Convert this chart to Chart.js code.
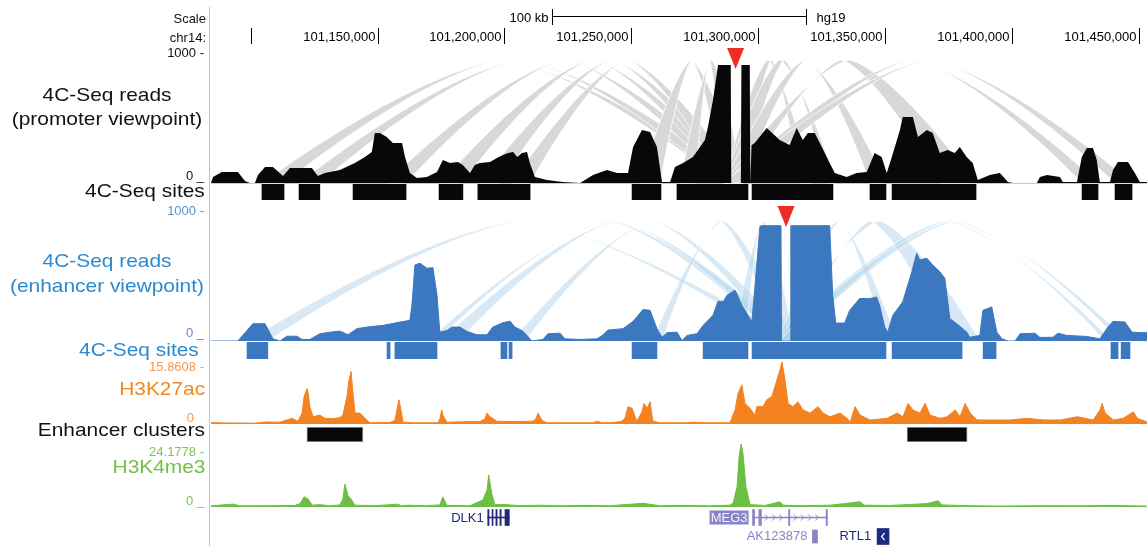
<!DOCTYPE html>
<html>
<head>
<meta charset="utf-8">
<title>4C-Seq at the DLK1-MEG3 locus</title>
<script src="https://cdn.jsdelivr.net/npm/chart.js@4.4.1/dist/chart.umd.min.js"></script>
<style>
  html, body { margin: 0; padding: 0; background: #fff; }
  #browser { position: relative; width: 1148px; height: 546px; overflow: hidden; font-family: "Liberation Sans", Arial, sans-serif; color: #111; }
  #browser canvas { position: absolute; left: 0; }
  .lbl { position: absolute; white-space: nowrap; }
  .big { font-size: 19px; line-height: 24px; transform: scaleX(1.1); transform-origin: right center; }
  .pair { left: 7px; width: 200px; text-align: center; transform-origin: center center; }
  .sm { font-size: 13px; line-height: 14px; }
  #divider { position: absolute; left: 209px; top: 7px; width: 1px; height: 539px; background: #f3aeae; }
</style>
</head>
<body>
<div id="browser">
  <canvas id="promoter" width="1148" height="185" style="top:0"></canvas>
  <canvas id="promoterSites" width="1148" height="17" style="top:184px"></canvas>
  <canvas id="enhancer" width="1148" height="142" style="top:200px"></canvas>
  <canvas id="enhancerSites" width="1148" height="18" style="top:342px"></canvas>
  <canvas id="h3k27ac" width="1148" height="69" style="top:356px"></canvas>
  <canvas id="clusters" width="1148" height="17" style="top:426px"></canvas>
  <canvas id="h3k4me3" width="1148" height="68" style="top:440px"></canvas>
  <canvas id="genes" width="1148" height="38" style="top:508px"></canvas>
  <div id="divider"></div>

  <div class="lbl sm" style="right:942px;top:12px">Scale</div>
  <div class="lbl sm" style="right:942px;top:31px">chr14:</div>

  <div class="lbl sm" style="right:944px;top:46px">1000 -</div>
  <div class="lbl sm" style="right:944px;top:169px">0 _</div>
  <div class="lbl big pair" style="top:83px">4C-Seq reads<br>(promoter viewpoint)</div>
  <div class="lbl big" style="right:943px;top:179px">4C-Seq sites</div>

  <div class="lbl sm" style="right:944px;top:204px;color:#5d8fd2">1000 -</div>
  <div class="lbl sm" style="right:944px;top:326px;color:#5d8fd2">0 _</div>
  <div class="lbl big pair" style="top:248px;line-height:25px;color:#2b8ace">4C-Seq reads<br>(enhancer viewpoint)</div>
  <div class="lbl big" style="right:949px;top:338px;color:#2b8ace">4C-Seq sites</div>

  <div class="lbl sm" style="right:944px;top:360px;color:#f39a4c">15.8608 -</div>
  <div class="lbl sm" style="right:954px;top:411px;color:#f39a4c">0</div>
  <div class="lbl big" style="right:943px;top:377px;color:#f5861f">H3K27ac</div>

  <div class="lbl big" style="right:943px;top:418px">Enhancer clusters</div>

  <div class="lbl sm" style="right:944px;top:445px;color:#7fc35a">24.1778 -</div>
  <div class="lbl sm" style="right:944px;top:494px;color:#7fc35a">0 _</div>
  <div class="lbl big" style="right:943px;top:455px;color:#72bf44">H3K4me3</div>
</div>

<script>
// window on chr14, in kb
const X_MIN = 101084.3;
const X_MAX = 101453.3;

const rulerTicks = [101100, 101150, 101200, 101250, 101300, 101350, 101400, 101450];
const scaleBarKb = 100;
const assembly = 'hg19';

const READS_MAX = 1000;
const H3K27AC_MAX = 15.8608;
const H3K4ME3_MAX = 24.1778;

// 4C reads, promoter viewpoint
const promoterPos = [101084.3, 101085.1, 101088.6, 101094.9, 101097.7, 101099.6, 101101.6, 101102.8, 101105.6, 101108.7,
  101112.7, 101115.4, 101124.1, 101126.4, 101129.2, 101135.1, 101141.0, 101145.0, 101147.7, 101148.9,
  101150.9, 101153.6, 101156.0, 101159.6, 101160.8, 101162.7, 101165.5, 101169.4, 101173.4, 101175.7,
  101178.5, 101181.6, 101183.6, 101186.4, 101188.3, 101190.3, 101194.3, 101197.0, 101199.4, 101201.4,
  101203.4, 101205.0, 101206.9, 101208.9, 101210.0, 101212.0, 101216.7, 101223.0, 101229.8, 101234.9,
  101240.4, 101244.4, 101248.7, 101250.7, 101254.2, 101257.4, 101260.1, 101262.1, 101265.3, 101267.2,
  101270.4, 101274.3, 101277.1, 101279.0, 101280.2, 101282.2, 101284.2, 101289.2, 101289.4, 101293.2,
  101293.4, 101296.7, 101296.9, 101297.4, 101298.6, 101303.4, 101308.5, 101312.4, 101315.2, 101317.6,
  101319.6, 101322.3, 101325.1, 101328.2, 101330.2, 101334.9, 101338.8, 101342.8, 101345.9, 101348.7,
  101350.7, 101352.7, 101355.9, 101357.0, 101361.0, 101363.0, 101366.5, 101368.8, 101371.6, 101374.7,
  101377.5, 101379.5, 101382.2, 101384.6, 101386.6, 101391.3, 101395.3, 101398.5, 101400.5, 101409.9,
  101411.1, 101413.9, 101419.0, 101420.1, 101425.7, 101427.6, 101429.6, 101432.0, 101433.5, 101434.7,
  101438.7, 101439.9, 101441.8, 101445.8, 101448.5, 101450.5, 101453.3];
const promoterReads = [0, 46, 85, 85, 15, 0, 0, 62, 123, 123,
  54, 115, 115, 54, 77, 100, 154, 200, 238, 385,
  385, 354, 308, 308, 200, 77, 38, 46, 85, 177,
  154, 162, 138, 77, 138, 154, 162, 192, 215, 231,
  238, 200, 231, 238, 154, 46, 23, 8, 0, 62,
  100, 77, 77, 277, 408, 392, 277, 8, 8, 123,
  154, 200, 277, 331, 431, 638, 908, 908, 0, 0,
  908, 908, 0, 290, 308, 423, 331, 292, 423, 331,
  385, 385, 277, 154, 77, 46, 77, 85, 231, 200,
  77, 200, 408, 508, 508, 354, 408, 385, 231, 254,
  231, 277, 200, 154, 23, 62, 77, 8, 0, 0,
  46, 62, 46, 8, 8, 200, 269, 269, 177, 8,
  8, 100, 162, 162, 77, 8, 8];
const promoterViewpoint = 101291.1;
const promoterAnchor = [101286.5, 101294.0];
const promoterArcs = [
  [101104.4, 101113.1], [101119.0, 101127.2], [101153.3, 101161.2], [101175.0, 101183.2],
  [101190.3, 101198.2], [101203.0, 101210.1], [101253.4, 101261.3], [101269.2, 101275.1],
  [101316.5, 101321.2], [101326.8, 101330.7], [101344.1, 101350.4], [101371.7, 101385.5],
  [101427.7, 101434.0], [101440.7, 101447.4]];
const promoterSites = [
  [101104.4, 101113.1], [101119.0, 101127.2], [101140.3, 101161.2], [101174.2, 101183.6],
  [101189.5, 101210.1], [101250.3, 101261.7], [101268.0, 101296.0], [101297.6, 101329.5],
  [101344.1, 101350.4], [101352.8, 101385.9], [101427.7, 101434.0], [101440.7, 101447.4]];

// 4C reads, enhancer viewpoint
const enhancerPos = [101084.3, 101094.9, 101098.5, 101100.8, 101105.6, 101108.7, 101111.5, 101114.2, 101118.2, 101120.2,
  101123.3, 101127.2, 101131.2, 101135.1, 101138.3, 101141.8, 101145.7, 101152.0, 101158.8, 101162.7,
  101163.5, 101164.7, 101166.7, 101169.4, 101171.8, 101173.4, 101174.5, 101177.3, 101179.3, 101182.4,
  101185.2, 101189.1, 101193.1, 101195.4, 101199.4, 101202.2, 101204.1, 101206.9, 101208.9, 101210.8,
  101215.2, 101217.1, 101221.9, 101223.8, 101229.8, 101236.5, 101238.9, 101240.8, 101246.7, 101250.7,
  101254.6, 101257.4, 101260.1, 101262.1, 101264.1, 101268.0, 101270.0, 101272.0, 101275.9, 101278.3,
  101282.2, 101284.2, 101286.2, 101287.8, 101290.9, 101293.6, 101296.0, 101297.5, 101298.7, 101300.7,
  101301.5, 101309.0, 101309.2, 101312.7, 101312.9, 101328.2, 101329.4, 101330.6, 101334.1, 101336.1,
  101340.0, 101344.0, 101346.7, 101347.9, 101349.9, 101351.1, 101353.1, 101357.0, 101360.6, 101362.5,
  101363.7, 101366.5, 101368.8, 101371.6, 101373.6, 101375.6, 101378.3, 101382.3, 101383.4, 101387.4,
  101388.6, 101392.1, 101394.1, 101396.1, 101398.5, 101401.3, 101403.3, 101409.1, 101411.1, 101416.2,
  101418.2, 101421.7, 101429.6, 101434.7, 101437.9, 101439.9, 101444.6, 101447.4, 101451.3, 101453.3];
const enhancerReads = [0, 0, 81, 133, 133, 17, 0, 37, 37, 12,
  12, 56, 68, 76, 48, 95, 107, 120, 146, 159,
  275, 585, 598, 560, 564, 353, 68, 81, 107, 107,
  74, 48, 48, 107, 141, 153, 107, 81, 43, 0,
  12, 56, 60, 17, 12, 17, 48, 84, 95, 151,
  242, 236, 95, 29, 64, 68, 4, 43, 56, 120,
  198, 306, 301, 353, 391, 275, 198, 146, 407, 882,
  887, 887, 0, 0, 887, 887, 353, 138, 138, 236,
  327, 327, 339, 275, 107, 68, 198, 301, 533, 676,
  624, 637, 585, 533, 482, 172, 133, 68, 29, 43,
  236, 262, 68, 17, 0, 0, 56, 60, 27, 29,
  60, 43, 35, 17, 107, 151, 146, 68, 64, 64];
const enhancerViewpoint = 101311.0;
const enhancerAnchor = [101308.0, 101314.0];
const enhancerArcs = [
  [101098.5, 101106.7], [101169.8, 101173.4], [101175.0, 101181.7], [101203.0, 101208.1],
  [101258.2, 101262.1], [101290.1, 101294.8], [101350.0, 101354.8], [101374.5, 101387.5],
  [101436.8, 101439.5], [101442.7, 101445.8]];
const enhancerSites = [
  [101098.5, 101106.7], [101153.7, 101154.9], [101156.8, 101173.4], [101198.6, 101201.0],
  [101201.8, 101203.0], [101250.3, 101260.1], [101278.3, 101296.0], [101297.6, 101350.4],
  [101352.8, 101380.4], [101388.7, 101393.8], [101439.1, 101441.9], [101443.1, 101446.6]];

// H3K27ac signal
const h3k27acPos = [101084.3, 101089.8, 101095.7, 101101.6, 101106.3, 101111.5, 101114.2, 101116.2, 101118.6, 101120.2,
  101121.0, 101122.2, 101122.6, 101123.3, 101124.5, 101127.2, 101129.2, 101132.4, 101135.1, 101136.3,
  101137.9, 101138.7, 101139.5, 101140.3, 101141.1, 101143.0, 101145.0, 101147.0, 101154.8, 101156.8,
  101157.6, 101158.4, 101159.2, 101160.0, 101163.9, 101168.6, 101173.8, 101174.5, 101175.3, 101175.7,
  101177.3, 101183.6, 101190.3, 101192.3, 101193.1, 101194.3, 101197.0, 101203.4, 101211.2, 101212.4,
  101213.2, 101214.8, 101216.7, 101225.8, 101234.9, 101236.5, 101238.5, 101242.8, 101246.3, 101247.5,
  101248.7, 101250.3, 101251.5, 101252.2, 101254.2, 101255.0, 101256.2, 101257.4, 101258.5, 101261.3,
  101271.9, 101274.3, 101279.8, 101288.9, 101290.9, 101292.1, 101293.6, 101294.8, 101296.8, 101298.7,
  101299.5, 101301.9, 101303.4, 101305.4, 101307.4, 101308.6, 101309.4, 101310.6, 101311.8, 101313.7,
  101315.7, 101317.7, 101320.5, 101323.6, 101325.6, 101328.4, 101332.3, 101335.1, 101336.3, 101338.2,
  101340.2, 101344.1, 101350.8, 101354.8, 101357.1, 101359.1, 101361.0, 101363.8, 101365.8, 101367.8,
  101371.7, 101374.5, 101377.7, 101379.6, 101381.6, 101383.6, 101386.3, 101392.7, 101399.4, 101406.0,
  101412.4, 101419.1, 101425.8, 101432.1, 101434.8, 101435.6, 101436.8, 101440.0, 101443.9, 101447.9,
  101449.5, 101453.3];
const h3k27acSignal = [0.35, 0.25, 0.25, 0.2, 0.5, 0.45, 1.0, 1.4, 0.7, 2.7,
  6.8, 8.8, 7.7, 4.3, 1.8, 2.2, 1.4, 1.3, 1.6, 2.2,
  6.8, 10.9, 13.0, 7.6, 2.7, 2.7, 1.4, 0.3, 0.35, 0.9,
  3.5, 6.0, 3.5, 0.45, 0.3, 0.3, 0.3, 1.3, 3.5, 2.2,
  0.45, 0.55, 0.6, 1.3, 2.7, 1.8, 0.7, 0.6, 0.7, 1.3,
  2.7, 0.9, 0.3, 0.3, 0.3, 0.7, 0.3, 0.35, 0.7, 1.4,
  4.3, 3.9, 1.8, 0.7, 3.0, 5.1, 3.9, 5.5, 0.7, 0.3,
  0.3, 0.45, 0.3, 0.3, 3.5, 7.6, 9.7, 5.1, 3.9, 2.2,
  4.3, 4.3, 6.0, 6.8, 10.9, 13.4, 15.4, 10.9, 5.1, 4.3,
  5.5, 3.5, 2.7, 4.3, 2.7, 1.8, 2.7, 1.4, 0.45, 4.3,
  2.2, 1.0, 1.4, 2.7, 1.8, 5.1, 3.5, 2.7, 5.1, 2.2,
  1.4, 1.8, 3.5, 1.8, 5.1, 2.7, 1.0, 1.0, 1.0, 1.4,
  1.0, 1.0, 1.8, 1.0, 3.5, 5.1, 2.7, 1.0, 1.4, 3.0,
  1.4, 0.5];

const enhancerClusters = [[101122.1, 101144.2], [101358.7, 101382.4]];

// H3K4me3 signal
const h3k4me3Pos = [101084.3, 101093.0, 101095.7, 101107.5, 101117.4, 101119.4, 101121.0, 101122.6, 101124.2, 101127.2,
  101131.2, 101135.1, 101136.3, 101137.1, 101138.3, 101139.8, 101141.0, 101148.9, 101157.8, 101159.4,
  101161.8, 101168.6, 101174.5, 101175.7, 101177.3, 101186.4, 101191.5, 101193.1, 101193.8, 101195.0,
  101196.2, 101199.4, 101206.1, 101214.0, 101221.9, 101230.9, 101241.6, 101254.6, 101261.3, 101269.9,
  101281.0, 101288.9, 101290.1, 101291.7, 101292.5, 101293.3, 101294.0, 101295.2, 101296.8, 101302.7,
  101308.6, 101309.8, 101316.5, 101328.4, 101340.2, 101341.8, 101352.0, 101366.6, 101371.0, 101372.5,
  101383.6, 101395.4, 101411.2, 101427.0, 101438.8, 101453.3];
const h3k4me3Signal = [0.45, 1.1, 0.45, 0.5, 0.6, 1.3, 3.9, 3.1, 0.7, 0.9,
  0.5, 0.8, 3.1, 8.8, 4.4, 2.7, 0.7, 0.5, 1.1, 0.45,
  0.7, 0.5, 0.8, 3.9, 0.6, 0.5, 2.7, 6.5, 12.3, 5.2,
  0.9, 1.0, 0.5, 0.7, 0.45, 0.6, 0.5, 1.4, 0.5, 0.6,
  0.45, 0.7, 1.4, 7.8, 19.3, 24.2, 20.6, 7.8, 0.9, 0.6,
  2.0, 0.7, 0.5, 0.7, 2.0, 0.7, 0.6, 1.3, 2.4, 0.8,
  0.5, 0.35, 0.5, 0.45, 0.6, 0.35];

// gene models
const dlk1Exons = [[101193.4, 101193.9], [101195.1, 101195.5], [101196.6, 101197.1], [101198.2, 101198.7], [101200.2, 101201.9]];
const meg3Exons = [[101297.8, 101298.6], [101300.3, 101301.3], [101312.0, 101312.5], [101326.8, 101327.3]];
const ak123878Exons = [[101321.4, 101323.4]];
const rtl1Exons = [[101346.9, 101351.6]];

const BLACK = '#060809';
const BLUE = '#3c78bf';
const ORANGE = '#f58220';
const GREEN = '#6cbe45';
const NAVY = '#1d2a7d';
const PURPLE = '#8884c6';
const FONT = '"Liberation Sans", Arial, sans-serif';

Chart.defaults.font.family = FONT;
Chart.defaults.animation = false;
Chart.defaults.responsive = false;
Chart.defaults.events = [];
Chart.defaults.plugins.legend.display = false;
Chart.defaults.plugins.tooltip.enabled = false;

function trackOptions(padTop, padBottom, yScale) {
  return {
    layout: { padding: { left: 211, right: 1, top: padTop, bottom: padBottom } },
    scales: {
      x: { type: 'linear', min: X_MIN, max: X_MAX, display: false },
      y: Object.assign({ display: false }, yScale)
    }
  };
}

function areaDataset(pos, vals, fill, line) {
  return {
    data: pos.map((x, i) => ({ x: x, y: vals[i] })),
    backgroundColor: fill,
    borderColor: line,
    borderWidth: 1,
    pointRadius: 0,
    tension: 0,
    fill: 'origin'
  };
}

function spanDataset(spans, row, color, thickness) {
  return {
    data: spans.map(s => ({ x: s, y: row })),
    backgroundColor: color,
    borderWidth: 0,
    barThickness: thickness,
    grouped: false
  };
}

function siteChart(id, spans, color, edge, padTop, padBottom) {
  const ds = {
    data: spans.map(s => ({ x: s, y: 'site' })),
    backgroundColor: color,
    borderColor: edge || color,
    borderWidth: edge ? 1 : 0,
    borderSkipped: false,
    barPercentage: 1,
    categoryPercentage: 1,
    grouped: false
  };
  const options = trackOptions(padTop, padBottom, { type: 'category' });
  options.indexAxis = 'y';
  return new Chart(document.getElementById(id), {
    type: 'bar',
    data: { labels: ['site'], datasets: [ds] },
    options: options
  });
}

// one interaction ribbon: two curves of equal height over the anchor and target fragments
function traceArc(ctx, a, b, base, apex, reverse) {
  const c = (a + b) / 2, w = (b - a) / 2, h = base - apex;
  const n = 80;
  for (let i = 0; i <= n; i++) {
    const u = reverse ? 1 - 2 * i / n : -1 + 2 * i / n;
    ctx.lineTo(c + u * w, base - h * (1 - Math.pow(Math.abs(u), 1.4)));
  }
}

function arcPlugin(id, arcs, anchor, fill, stroke, apexGap) {
  return {
    id: id,
    beforeDatasetsDraw(chart) {
      const { ctx, chartArea, scales: { x, y } } = chart;
      const base = y.getPixelForValue(0);
      const apex = chartArea.top + apexGap;
      ctx.save();
      ctx.fillStyle = fill;
      ctx.strokeStyle = stroke;
      ctx.lineWidth = 0.8;
      arcs.forEach(t => {
        const ends = [t[0], t[1], anchor[0], anchor[1]].map(v => x.getPixelForValue(v)).sort((p, q) => p - q);
        ctx.beginPath();
        traceArc(ctx, ends[0], ends[3], base, apex, false);
        traceArc(ctx, ends[1], ends[2], base, apex, true);
        ctx.closePath();
        ctx.fill();
        ctx.stroke();
      });
      ctx.restore();
    }
  };
}

function viewpointMarker(id, pos) {
  return {
    id: id,
    afterDatasetsDraw(chart) {
      const { ctx, chartArea, scales: { x } } = chart;
      const px = x.getPixelForValue(pos);
      const top = chartArea.top - 5;
      ctx.save();
      ctx.fillStyle = '#ee2d24';
      ctx.beginPath();
      ctx.moveTo(px - 8.5, top);
      ctx.lineTo(px + 8.5, top);
      ctx.lineTo(px, top + 21);
      ctx.closePath();
      ctx.fill();
      ctx.restore();
    }
  };
}

const zeroLine = {
  id: 'zeroLine',
  beforeDatasetsDraw(chart) {
    const { ctx, chartArea, scales: { y } } = chart;
    const py = Math.round(y.getPixelForValue(0)) + 0.5;
    ctx.save();
    ctx.strokeStyle = '#c9c9c9';
    ctx.lineWidth = 1;
    ctx.beginPath();
    ctx.moveTo(chartArea.left, py);
    ctx.lineTo(chartArea.right, py);
    ctx.stroke();
    ctx.restore();
  }
};

// base-position ruler and scale bar above the first track
const rulerPlugin = {
  id: 'ruler',
  afterDraw(chart) {
    const { ctx, chartArea, scales: { x } } = chart;
    ctx.save();
    ctx.font = '13px ' + FONT;
    ctx.fillStyle = '#000';
    ctx.strokeStyle = '#000';
    ctx.lineWidth = 1;
    ctx.textBaseline = 'middle';

    const mid = (X_MIN + X_MAX) / 2;
    const x0 = Math.round(x.getPixelForValue(mid - scaleBarKb / 2)) + 0.5;
    const x1 = Math.round(x.getPixelForValue(mid + scaleBarKb / 2)) + 0.5;
    ctx.beginPath();
    ctx.moveTo(x0, 9); ctx.lineTo(x0, 25);
    ctx.moveTo(x0, 16.5); ctx.lineTo(x1, 16.5);
    ctx.moveTo(x1, 9); ctx.lineTo(x1, 25);
    ctx.stroke();
    ctx.textAlign = 'right';
    ctx.fillText(scaleBarKb + ' kb', x0 - 4, 18);
    ctx.textAlign = 'left';
    ctx.fillText(assembly, x1 + 10, 18);

    ctx.textAlign = 'right';
    rulerTicks.forEach(v => {
      const px = Math.round(x.getPixelForValue(v)) + 0.5;
      ctx.beginPath();
      ctx.moveTo(px, 28);
      ctx.lineTo(px, 44);
      ctx.stroke();
      const label = (v * 1000).toLocaleString('en-US');
      if (px - 3 - ctx.measureText(label).width > chartArea.left) {
        ctx.fillText(label, px - 3, 37);
      }
    });
    ctx.restore();
  }
};

const geneLabels = {
  id: 'geneLabels',
  afterDatasetsDraw(chart) {
    const { ctx, scales: { x, y } } = chart;
    const upper = y.getPixelForValue(0);
    const lower = y.getPixelForValue(1);
    ctx.save();
    ctx.font = '13px ' + FONT;
    ctx.textBaseline = 'middle';

    ctx.textAlign = 'right';
    ctx.fillStyle = NAVY;
    ctx.fillText('DLK1', x.getPixelForValue(dlk1Exons[0][0]) - 4, upper + 1);

    // MEG3 is the highlighted gene
    const m0 = x.getPixelForValue(meg3Exons[0][0]);
    ctx.fillStyle = PURPLE;
    ctx.fillRect(m0 - 43, upper - 7, 39, 14);
    ctx.fillStyle = '#f2f2fb';
    ctx.textAlign = 'center';
    ctx.fillText('MEG3', m0 - 23.5, upper + 1);

    // plus-strand chevrons along the MEG3 introns
    ctx.strokeStyle = PURPLE;
    ctx.lineWidth = 1;
    const exonPx = meg3Exons.map(e => [x.getPixelForValue(e[0]), x.getPixelForValue(e[1])]);
    for (let cx = exonPx[1][1] + 6; cx < exonPx[exonPx.length - 1][0] - 2; cx += 7.2) {
      if (exonPx.some(e => cx > e[0] - 3 && cx < e[1] + 3)) continue;
      ctx.beginPath();
      ctx.moveTo(cx - 2.5, upper - 3);
      ctx.lineTo(cx + 0.5, upper);
      ctx.lineTo(cx - 2.5, upper + 3);
      ctx.stroke();
    }

    ctx.textAlign = 'right';
    ctx.fillStyle = PURPLE;
    ctx.fillText('AK123878', x.getPixelForValue(ak123878Exons[0][0]) - 5, lower);
    ctx.fillStyle = NAVY;
    ctx.fillText('RTL1', x.getPixelForValue(rtl1Exons[0][0]) - 6, lower);

    // minus-strand chevron inside RTL1
    const rc = (x.getPixelForValue(rtl1Exons[0][0]) + x.getPixelForValue(rtl1Exons[0][1])) / 2;
    ctx.strokeStyle = '#ffffff';
    ctx.lineWidth = 1.2;
    ctx.beginPath();
    ctx.moveTo(rc + 1.5, lower - 3.5);
    ctx.lineTo(rc - 1.5, lower);
    ctx.lineTo(rc + 1.5, lower + 3.5);
    ctx.stroke();
    ctx.restore();
  }
};

new Chart(document.getElementById('promoter'), {
  type: 'line',
  data: { datasets: [areaDataset(promoterPos, promoterReads, BLACK, 'rgba(0,0,0,0)')] },
  options: trackOptions(53, 2, { min: 0, max: READS_MAX }),
  plugins: [rulerPlugin, zeroLine, arcPlugin('promoterArcs', promoterArcs, promoterAnchor, '#d8d8d8', '#ffffff', 7), viewpointMarker('promoterMark', promoterViewpoint)]
});

siteChart('promoterSites', promoterSites, BLACK, null, 0, 1);

new Chart(document.getElementById('enhancer'), {
  type: 'line',
  data: { datasets: [areaDataset(enhancerPos, enhancerReads, BLUE, BLUE)] },
  options: trackOptions(11, 1, { min: 0, max: READS_MAX }),
  plugins: [arcPlugin('enhancerArcs', enhancerArcs, enhancerAnchor, 'rgba(178,212,235,0.5)', 'rgba(255,255,255,0.7)', 10), viewpointMarker('enhancerMark', enhancerViewpoint)]
});

siteChart('enhancerSites', enhancerSites, BLUE, null, 0, 1);

new Chart(document.getElementById('h3k27ac'), {
  type: 'line',
  data: { datasets: [areaDataset(h3k27acPos, h3k27acSignal, ORANGE, ORANGE)] },
  options: trackOptions(4, 1, { min: 0, max: H3K27AC_MAX })
});

siteChart('clusters', enhancerClusters, BLACK, '#9a9a9a', 1, 1);

new Chart(document.getElementById('h3k4me3'), {
  type: 'line',
  data: { datasets: [areaDataset(h3k4me3Pos, h3k4me3Signal, GREEN, GREEN)] },
  options: trackOptions(4, 1, { min: 0, max: H3K4ME3_MAX })
});

const intron = exons => [[exons[0][0], exons[exons.length - 1][1]]];
const geneOptions = trackOptions(0, 0, { type: 'category' });
geneOptions.indexAxis = 'y';
new Chart(document.getElementById('genes'), {
  type: 'bar',
  data: {
    labels: ['upper', 'lower'],
    datasets: [
      spanDataset(intron(dlk1Exons), 'upper', NAVY, 1),
      spanDataset(dlk1Exons, 'upper', NAVY, 16),
      spanDataset(intron(meg3Exons), 'upper', PURPLE, 1),
      spanDataset(meg3Exons, 'upper', PURPLE, 16),
      spanDataset(ak123878Exons, 'lower', PURPLE, 13),
      spanDataset(rtl1Exons, 'lower', NAVY, 16)
    ]
  },
  options: geneOptions,
  plugins: [geneLabels]
});
</script>
</body>
</html>
